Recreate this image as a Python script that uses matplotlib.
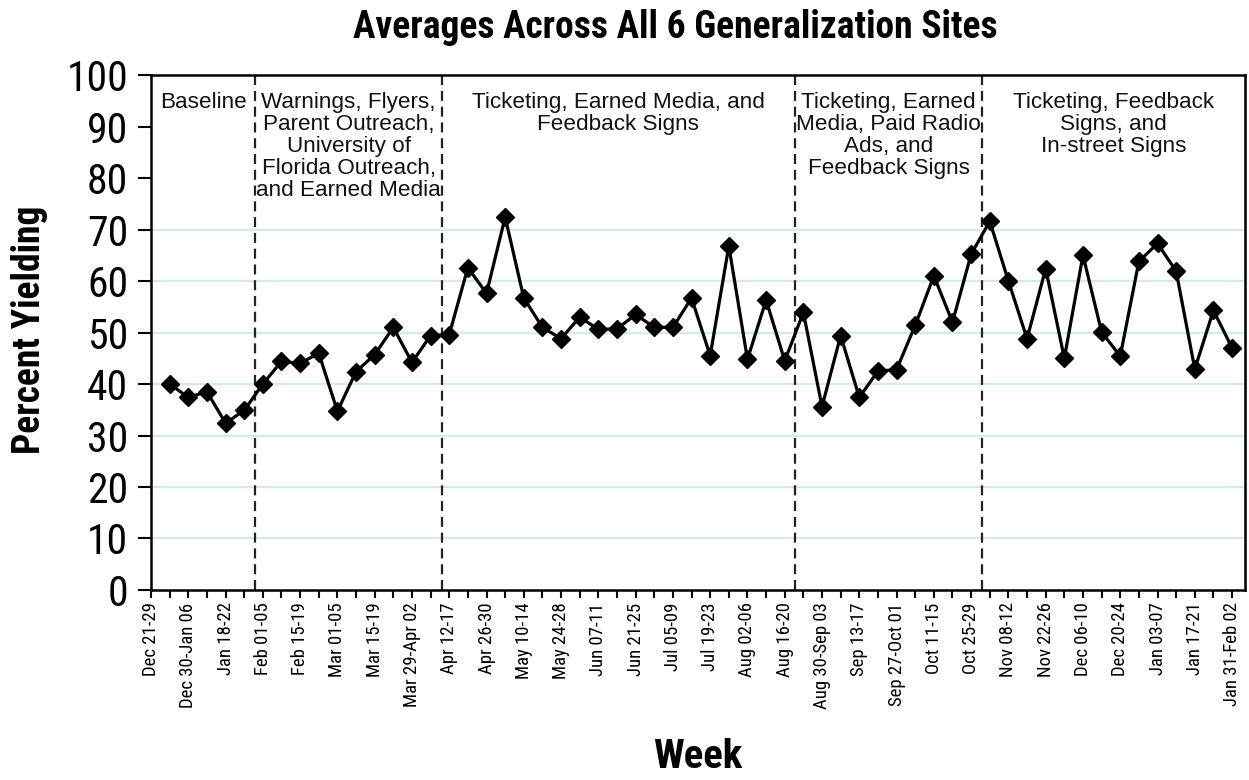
import numpy as np
import matplotlib
matplotlib.use('Agg')
import matplotlib.pyplot as plt
from matplotlib import font_manager

# week labels (every other week is labelled)
week_labels = ['Dec 21-29', 'Dec 30-Jan 06', 'Jan 18-22', 'Feb 01-05', 'Feb 15-19',
               'Mar 01-05', 'Mar 15-19', 'Mar 29-Apr 02', 'Apr 12-17', 'Apr 26-30',
               'May 10-14', 'May 24-28', 'Jun 07-11', 'Jun 21-25', 'Jul 05-09',
               'Jul 19-23', 'Aug 02-06', 'Aug 16-20', 'Aug 30-Sep 03', 'Sep 13-17',
               'Sep 27-Oct 01', 'Oct 11-15', 'Oct 25-29', 'Nov 08-12', 'Nov 22-26',
               'Dec 06-10', 'Dec 20-24', 'Jan 03-07', 'Jan 17-21', 'Jan 31-Feb 02']

baseline = [40.0, 37.4, 38.5, 32.4, 34.9]
warnings = [40.0, 44.4, 44.0, 46.0, 34.7, 42.4, 45.7, 51.0, 44.2, 49.4]
ticketing_media = [49.6, 62.6, 57.6, 72.4, 56.7, 51.0, 48.8, 53.0, 50.6, 50.7,
                   53.5, 51.0, 51.0, 56.7, 45.5, 66.8, 44.8, 56.3, 44.5]
ticketing_radio = [53.9, 35.6, 49.4, 37.4, 42.5, 42.8, 51.4, 61.0, 52.0, 65.2]
ticketing_instreet = [71.6, 60.0, 48.8, 62.4, 45.0, 65.0, 50.1, 45.4, 63.8, 67.3,
                      61.9, 42.9, 54.3, 47.0]

phase_labels = ['Baseline',
                'Warnings, Flyers,\nParent Outreach,\nUniversity of\nFlorida Outreach,\nand Earned Media',
                'Ticketing, Earned Media, and\nFeedback Signs',
                'Ticketing, Earned\nMedia, Paid Radio\nAds, and\nFeedback Signs',
                'Ticketing, Feedback\nSigns, and\nIn-street Signs']
phase_bounds = [0, 5.6, 15.6, 34.55, 44.6, 58.7]


def pick_font(candidates):
    fonts = font_manager.fontManager.ttflist
    for c in candidates:
        w = {f.weight for f in fonts if f.name == c}
        if 400 in w and 700 in w:
            return c
    return 'DejaVu Sans'


narrow = pick_font(['Roboto Condensed', 'Archivo Narrow', 'PT Sans Narrow',
                    'IBM Plex Sans Condensed', 'Open Sans Condensed'])
regular = pick_font(['Liberation Sans', 'Arimo', 'DejaVu Sans'])

values = baseline + warnings + ticketing_media + ticketing_radio + ticketing_instreet
weeks = np.arange(1, len(values) + 1)

fig = plt.figure(figsize=(12.49, 7.8), dpi=100)
ax = fig.add_axes([0.1209, 0.2436, 0.876, 0.6602])

for y in range(10, 80, 10):
    ax.axhline(y, color='#d3ebe6', lw=1.6, zorder=0)

for b in phase_bounds[1:-1]:
    ax.axvline(b, color='#222222', lw=1.6, ls=(0, (4.5, 2.6)), zorder=1)

for i, lab in enumerate(phase_labels):
    xc = (phase_bounds[i] + phase_bounds[i + 1]) / 2
    ax.text(xc, 96.8, lab, ha='center', va='top', fontsize=16.2, family=regular,
            linespacing=1.07, color='#111111')

ax.plot(weeks, values, color='black', lw=2.3, marker='D', ms=9, zorder=3)

ax.set_xlim(0, phase_bounds[-1])
ax.set_ylim(0, 100)
ax.set_yticks(range(0, 101, 10))
ax.set_yticklabels([str(v) for v in range(0, 101, 10)], family=narrow, fontsize=30)
ax.set_xticks(np.arange(0, 59))
ax.set_xticklabels([week_labels[i // 2] if i % 2 == 0 else '' for i in range(59)],
                   rotation=90, family=narrow, fontsize=13.5)
ax.tick_params(axis='y', length=9.5, width=1.5, pad=7)
ax.tick_params(axis='x', length=6, width=1.5, pad=3)
for s in ax.spines.values():
    s.set_linewidth(1.8)

ax.set_ylabel('Percent Yielding', family=narrow, fontweight='bold', fontsize=27)
ax.yaxis.set_label_coords(-0.094, 0.505)
ax.set_xlabel('Week', family=narrow, fontweight='bold', fontsize=29.5)
ax.xaxis.set_label_coords(0.5, -0.288)
fig.text(0.541, 0.965, 'Averages Across All 6 Generalization Sites', ha='center', va='center',
         family=narrow, fontweight='bold', fontsize=27)

fig.savefig('out.png', dpi=100)
